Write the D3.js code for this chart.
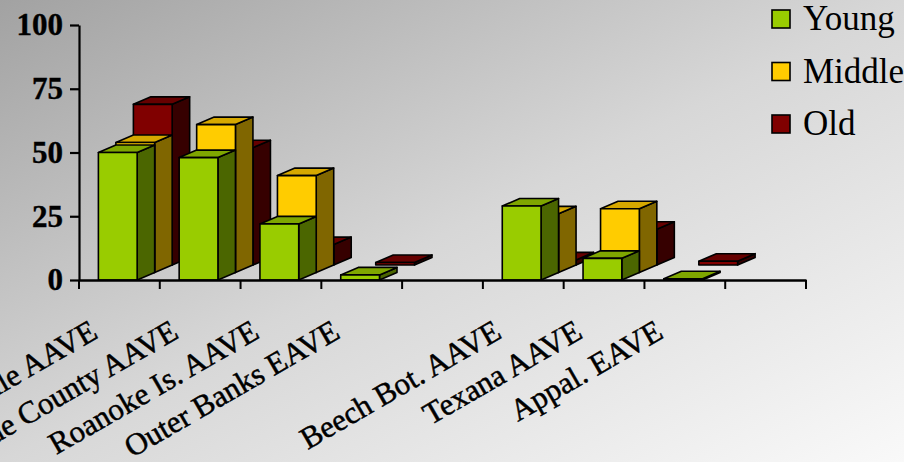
<!DOCTYPE html>
<html>
<head>
<meta charset="utf-8">
<script src="https://cdn.jsdelivr.net/npm/d3@7"></script>
<style>
  html, body { margin: 0; padding: 0; background: #ffffff; }
  svg { display: block; }
</style>
</head>
<body>
<svg id="chart" width="904" height="462"></svg>
<script>
// Dialect groups (blank slots leave a gap between the two regions)
const categories = ["Princeville AAVE", "Hyde County AAVE", "Roanoke Is. AAVE", "Outer Banks EAVE", "",
                    "Beech Bot. AAVE", "Texana AAVE", "Appal. EAVE", ""];
const seriesNames = ["Young", "Middle", "Old"];
const youngValues  = [50, 48, 22, 2,   null, 29, 8.5, 0.5, null];
const middleValues = [51, 58, 38, 0,   null, 23, 25,  0,   null];
const oldValues    = [63, 46, 8,  1,   null, 2,  14,  1.5, null];
const yTicks = [0, 25, 50, 75, 100];

// face colours per series: front, top, side
const palette = {
  Young:  { front: "#99cc00", top: "#7fa600", side: "#4b6600" },
  Middle: { front: "#ffcc00", top: "#d6a800", side: "#806600" },
  Old:    { front: "#800000", top: "#660000", side: "#360000" }
};

const serif = "'Liberation Serif', 'DejaVu Serif', serif";
const svg = d3.select("#chart");
const W = 904, H = 462;

// diagonal grey background
const defs = svg.append("defs");
const grad = defs.append("linearGradient").attr("id", "bg")
  .attr("x1", 0).attr("y1", 0).attr("x2", 1).attr("y2", 1);
grad.append("stop").attr("offset", 0).attr("stop-color", "#a2a2a2");
grad.append("stop").attr("offset", 0.5).attr("stop-color", "#d7d7d7");
grad.append("stop").attr("offset", 1).attr("stop-color", "#f9f9f9");
svg.append("rect").attr("width", W).attr("height", H).attr("fill", "url(#bg)");

const plot = { left: 79, right: 806, top: 25, bottom: 280 };

const x = d3.scaleBand()
  .domain(d3.range(categories.length))
  .range([plot.left, plot.right])
  .paddingInner(0).paddingOuter(0);

const y = d3.scaleLinear().domain([0, 100]).range([plot.bottom, plot.top]);

// oblique depth step shared by every series row
const depth = { dx: 17.5, dy: -7.5 };
const barW = x.bandwidth() * 0.48;
const barOffset = x.bandwidth() * 0.24;

const series = [
  { name: "Young", values: youngValues },
  { name: "Middle", values: middleValues },
  { name: "Old", values: oldValues }
];

const barsG = svg.append("g").attr("class", "bars");

// draw back row first so the front row overlaps it
for (let s = series.length - 1; s >= 0; s--) {
  const ser = series[s];
  const col = palette[ser.name];
  const shiftX = s * depth.dx, shiftY = s * depth.dy;
  ser.values.forEach((v, i) => {
    if (v == null || v <= 0) return;
    const x0 = x(i) + barOffset + shiftX;
    const base = y(0) + shiftY;
    const top = y(v) + shiftY;
    const x1 = x0 + barW;
    const g = barsG.append("g")
      .attr("stroke", "#000").attr("stroke-width", 1.6).attr("stroke-linejoin", "round");
    g.append("polygon")
      .attr("points", [[x1, top], [x1 + depth.dx, top + depth.dy], [x1 + depth.dx, base + depth.dy], [x1, base]].join(" "))
      .attr("fill", col.side);
    g.append("polygon")
      .attr("points", [[x0, top], [x0 + depth.dx, top + depth.dy], [x1 + depth.dx, top + depth.dy], [x1, top]].join(" "))
      .attr("fill", col.top);
    g.append("rect")
      .attr("x", x0).attr("y", top).attr("width", barW).attr("height", base - top)
      .attr("fill", col.front);
  });
}

// y axis
const yAxis = d3.axisLeft(y).tickValues(yTicks).tickSize(9).tickSizeOuter(0).tickPadding(7);
const yG = svg.append("g").attr("transform", `translate(${plot.left},0)`).call(yAxis);
yG.select(".domain").attr("stroke", "#000").attr("stroke-width", 2.2);
yG.selectAll(".tick line").attr("stroke", "#000").attr("stroke-width", 2.2);
yG.selectAll(".tick text")
  .attr("fill", "#000")
  .attr("stroke", "#000").attr("stroke-width", 0.4)
  .style("font-family", serif)
  .style("font-weight", "bold")
  .style("font-size", "31px");

// x axis with ticks between categories
const xAxis = d3.axisBottom(x).tickSize(0).tickFormat("");
const xG = svg.append("g").attr("transform", `translate(0,${plot.bottom})`).call(xAxis);
xG.select(".domain").attr("stroke", "#000").attr("stroke-width", 2.6);
xG.selectAll(".tick").remove();
const bounds = d3.range(categories.length + 1).map(i => i < categories.length ? x(i) : plot.right);
xG.selectAll("line.sep").data(bounds).join("line")
  .attr("class", "sep")
  .attr("x1", d => d).attr("x2", d => d)
  .attr("y1", 0).attr("y2", 9)
  .attr("stroke", "#000").attr("stroke-width", 2);

// rotated category labels
svg.append("g").selectAll("text").data(categories).join("text")
  .attr("transform", (d, i) => `translate(${x(i) + x.bandwidth() / 2 - 20},337) rotate(-30)`)
  .attr("text-anchor", "end")
  .style("font-family", serif)
  .style("font-size", "31px")
  .attr("fill", "#000")
  .attr("stroke", "#000").attr("stroke-width", 0.5)
  .text(d => d);

// legend
const legend = svg.append("g").attr("transform", "translate(772,0)");
seriesNames.forEach((name, i) => {
  const row = legend.append("g").attr("transform", `translate(0,${10 + i * 52.5})`);
  row.append("rect").attr("width", 18).attr("height", 18)
    .attr("fill", palette[name].front).attr("stroke", "#000").attr("stroke-width", 1.6);
  row.append("text").attr("x", 31).attr("y", 20)
    .style("font-family", serif)
    .style("font-size", "35px")
    .attr("fill", "#000")
    .text(name);
});
</script>
</body>
</html>
